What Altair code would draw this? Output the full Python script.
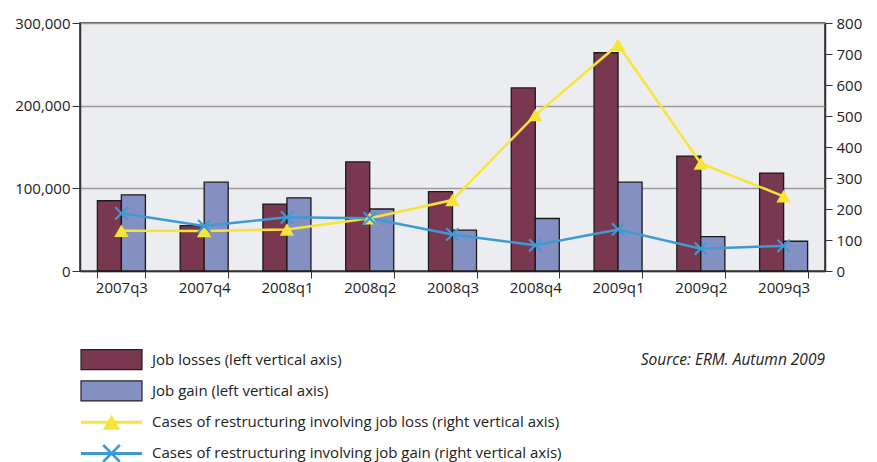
import altair as alt
import pandas as pd

quarters = ["2007q3", "2007q4", "2008q1", "2008q2", "2008q3", "2008q4", "2009q1", "2009q2", "2009q3"]
job_losses = [85000, 55000, 81000, 132000, 96000, 221500, 264000, 139000, 118500]
job_gain = [92000, 107500, 88500, 75000, 49500, 63500, 107500, 41500, 36000]
cases_loss = [130, 129, 134, 170, 229, 503, 730, 347, 241]
cases_gain = [186, 145, 173, 170, 118, 83, 134, 72, 81]

lab_loss = "Job losses (left vertical axis)"
lab_gain = "Job gain (left vertical axis)"
lab_closs = "Cases of restructuring involving job loss (right vertical axis)"
lab_cgain = "Cases of restructuring involving job gain (right vertical axis)"
labels = [lab_loss, lab_gain, lab_closs, lab_cgain]
colors = ["#7A3850", "#8490C2", "#F7E43A", "#3E9AD6"]
source = "Source: ERM. Autumn 2009"

FONT = "Open Sans"

bars_df = pd.DataFrame({
    "quarter": quarters * 2,
    "series": [lab_loss] * 9 + [lab_gain] * 9,
    "value": job_losses + job_gain,
})
lines_df = pd.DataFrame({
    "quarter": quarters * 2,
    "series": [lab_closs] * 9 + [lab_cgain] * 9,
    "cases": cases_loss + cases_gain,
})

color_scale = alt.Scale(domain=labels, range=colors)

x_enc = alt.X("quarter:N", sort=quarters,
              scale=alt.Scale(paddingInner=0.42, paddingOuter=0.21),
              axis=alt.Axis(title=None, labelAngle=0, tickBand="extent", tickSize=7,
                            tickColor="#333", domainColor="#333", domainWidth=1.5,
                            labelFontSize=15, labelColor="#222", labelPadding=2))

bars = alt.Chart(bars_df).mark_bar(stroke="#1a1a1a", strokeWidth=1.3).encode(
    x=x_enc,
    xOffset=alt.XOffset("series:N", sort=[lab_loss, lab_gain]),
    y=alt.Y("value:Q", scale=alt.Scale(domain=[0, 300000], nice=False),
            axis=alt.Axis(title=None, values=[0, 100000, 200000, 300000], format=",.0f",
                          grid=True, gridColor="#9a9a9a", gridWidth=1.5,
                          tickColor="#333", tickSize=8, labelPadding=2,
                          domainColor="#333", domainWidth=1.5,
                          labelFontSize=15, labelColor="#222")),
    color=alt.Color("series:N", scale=color_scale, legend=None),
)

y_lines = alt.Y("cases:Q", scale=alt.Scale(domain=[0, 800], nice=False),
                axis=alt.Axis(title=None, orient="right", values=list(range(0, 801, 100)),
                              grid=False, tickColor="#333", tickSize=7, labelPadding=4,
                              domainColor="#333", domainWidth=1.5,
                              labelFontSize=15, labelColor="#222"))

line_base = alt.Chart(lines_df).encode(
    x=alt.X("quarter:N", sort=quarters),
    y=y_lines,
    color=alt.Color("series:N", scale=color_scale, legend=None),
)
lines = line_base.mark_line(strokeWidth=2.5)
tri = line_base.transform_filter(alt.datum.series == lab_closs).mark_point(
    shape="triangle-up", filled=True, size=210, opacity=1)
xs = line_base.transform_filter(alt.datum.series == lab_cgain).mark_point(
    shape="M-1,-1L1,1M-1,1L1,-1", filled=False, size=150, strokeWidth=2.2, opacity=1)

lines_layer = alt.layer(lines, tri, xs)

main = alt.layer(bars, lines_layer).resolve_scale(y="independent").properties(
    width=745, height=248,
    view=alt.ViewBackground(fill="#ECEDF0", stroke="#222", strokeWidth=1.5))

# legend panel
leg_df = pd.DataFrame({"label": labels, "kind": ["bar", "bar", "line", "line"]})
LX = 1
leg_y = alt.Y("label:N", sort=labels, axis=None,
              scale=alt.Scale(domain=labels, paddingInner=0.36, paddingOuter=0.18))
leg_base = alt.Chart(leg_df).encode(y=leg_y)
leg_rect = leg_base.transform_filter(alt.datum.kind == "bar").mark_rect(
    stroke="#222", strokeWidth=1.2).encode(
    x=alt.value(LX), x2=alt.value(LX + 61),
    color=alt.Color("label:N", scale=color_scale, legend=None))
leg_rule = leg_base.transform_filter(alt.datum.kind == "line").mark_rule(strokeWidth=3).encode(
    x=alt.value(LX), x2=alt.value(LX + 61),
    color=alt.Color("label:N", scale=color_scale, legend=None))
leg_tri = leg_base.transform_filter(alt.datum.label == lab_closs).mark_point(
    shape="triangle-up", filled=True, size=300, opacity=1).encode(
    x=alt.value(LX + 30.5), color=alt.Color("label:N", scale=color_scale, legend=None))
leg_x = leg_base.transform_filter(alt.datum.label == lab_cgain).mark_point(
    shape="M-1,-1L1,1M-1,1L1,-1", filled=False, size=280, strokeWidth=2.5, opacity=1).encode(
    x=alt.value(LX + 30.5), color=alt.Color("label:N", scale=color_scale, legend=None))
leg_text = leg_base.mark_text(align="left", baseline="middle", fontSize=15, color="#222",
                              font=FONT).encode(x=alt.value(LX + 71), text="label:N")
src_text = alt.Chart(pd.DataFrame({"label": [lab_loss], "t": [source]})).mark_text(
    align="right", baseline="middle", fontSize=15.5, fontStyle="italic", color="#222",
    font=FONT).encode(x=alt.value(745), y=leg_y, text="t:N")

legend = alt.layer(leg_rect, leg_rule, leg_tri, leg_x, leg_text, src_text).properties(
    width=745, height=125, view=alt.ViewBackground(stroke=None))

chart = alt.vconcat(main, legend, spacing=48).properties(
    padding={"left": 13, "top": 15, "right": 5, "bottom": 5},
    background="white",
).configure(font=FONT)

chart.save("out.html", embed_options={"renderer": "svg", "actions": False})
